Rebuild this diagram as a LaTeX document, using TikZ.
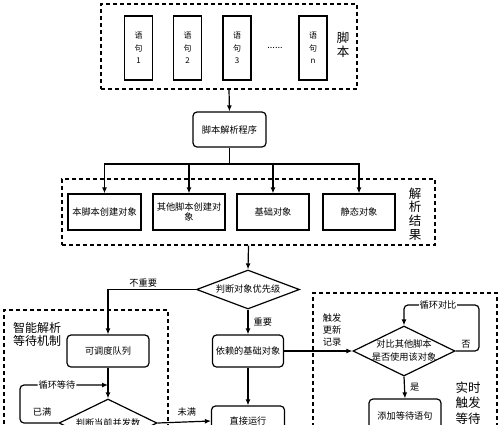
\documentclass[tikz,border=0pt]{standalone}
\usepackage{fontspec}
\newfontfamily\cjk{Noto Sans CJK SC}
\usetikzlibrary{shapes.geometric,arrows.meta}
\begin{document}
\begin{tikzpicture}[x=1pt,y=-1pt,
 every node/.style={font=\cjk\fontsize{9.2}{12.5}\selectfont},
 box/.style={draw,line width=1.2pt,inner sep=1pt,align=center},
 rbox/.style={box,rounded corners=4pt},
 stmt/.style={box,minimum width=28pt,minimum height=64pt,font=\cjk\fontsize{8}{12.5}\selectfont},
 grp/.style={draw,line width=1.4pt,dash pattern=on 4pt off 3pt,inner sep=0pt},
 dec/.style={draw,diamond,line width=1.2pt,inner sep=0pt,aspect=2},
 arr/.style={line width=1.2pt,-{Latex[length=6pt,width=5pt]}},
 lbl/.style={align=center},
 tag/.style={inner sep=1pt,align=center}
]
\useasboundingbox (0,0) rectangle (500,424);
\clip (0,0) rectangle (500,424);

% script group
\node[grp,minimum width=256pt,minimum height=85pt] (script) at (229,46.5) {};
\node[stmt] (s1) at (138.5,48) {语\\句\\1};
\node[stmt] (s2) at (187.5,48) {语\\句\\2};
\node[stmt] (s3) at (237,48) {语\\句\\3};
\node[stmt] (sn) at (313,48) {语\\句\\n};
\node[tag] (dots) at (275,48) {......};
\node[lbl,font=\cjk\fontsize{12.5}{14}\selectfont] (scriptlbl) at (343,45) {脚\\本};

% parser
\node[rbox,minimum width=73pt,minimum height=35pt] (parser) at (229.5,129.5) {脚本解析程序};

% results group
\node[grp,minimum width=373pt,minimum height=66pt] (results) at (248.5,212) {};
\node[box,minimum width=73pt,minimum height=36pt] (r1) at (104.5,212) {本脚本创建对象};
\node[box,minimum width=72pt,minimum height=36pt,font=\cjk\fontsize{9.2}{10}\selectfont] (r2) at (189,212) {其他脚本创建对\\象};
\node[box,minimum width=72pt,minimum height=36pt] (r3) at (273,212) {基础对象};
\node[box,minimum width=72pt,minimum height=36pt] (r4) at (359,212) {静态对象};
\node[lbl,font=\cjk\fontsize{12.5}{13.7}\selectfont] (reslbl) at (415,214) {解\\析\\结\\果};

\draw[arr] (script.south) -- (parser.north);
\coordinate (br) at (229.5,164);
\draw[line width=1.2pt] (parser.south) -- (br);
\draw[arr] (br) -| (r1.north);
\draw[arr] (br) -| (r2.north);
\draw[arr] (br) -| (r3.north);
\draw[arr] (br) -| (r4.north);

% priority decision
\node[dec,minimum width=103pt,minimum height=39pt] (dec1) at (248,289.5) {};
\node[tag] (dec1t) at (dec1) {判断对象优先级};
\draw[arr] (results.south) -- (dec1.north);

% left group
\node[grp,minimum width=164pt,minimum height=150pt] (leftgrp) at (86,385) {};
\node[lbl,font=\cjk\fontsize{12}{13}\selectfont] (leftlbl) at (37,334) {智能解析\\等待机制};
\node[rbox,minimum width=82pt,minimum height=32pt] (queue) at (108,351) {可调度队列};
\draw[arr] (dec1.west) -| node[tag,pos=0.3,above=1pt] {不重要} (queue.north);
\node[dec,minimum width=98pt,minimum height=48pt] (dec3) at (108,423) {};
\node[tag] (dec3t) at (dec3) {判断当前并发数};
\draw[arr] (queue.south) -- (dec3.north);
\coordinate (lw) at (20,385);
\coordinate (jn) at (108,385);
\draw[arr,rounded corners=4pt] (dec3.west) -| (lw) -- node[tag,fill=white,pos=0.42] {循环等待} (jn);
\node[tag] (full) at (42,412) {已满};

% middle
\node[rbox,minimum width=71pt,minimum height=32pt] (dep) at (248,351) {依赖的基础对象};
\draw[arr] (dec1.south) -- node[tag,right=4pt] {重要} (dep.north);
\node[rbox,minimum width=73pt,minimum height=30pt] (run) at (248,421) {直接运行};
\draw[arr] (dep.south) -- (run.north);
\draw[arr] (dec3.east) -- node[tag,above=4pt,pos=0.55] {未满} (run.west);

% right group
\node[grp,minimum width=184pt,minimum height=160pt] (rightgrp) at (405,373) {};
\node[dec,minimum width=102pt,minimum height=50pt] (dec2) at (404,351) {};
\node[tag,font=\cjk\fontsize{9.2}{13}\selectfont] (dec2t) at (dec2) {对比其他脚本\\是否使用该对象};
\draw[arr] (dep.east) -- (dec2.west);
\node[tag,font=\cjk\fontsize{9.2}{11.7}\selectfont] (trig) at (332,330) {触发\\更新\\记录};
\coordinate (lp) at (479,305);
\draw[arr,rounded corners=4pt] (dec2.east) -| (lp) -| (dec2.north);
\node[tag,fill=white] (cmp) at (438,305) {循环对比};
\node[tag] (no) at (466,344) {否};
\node[rbox,minimum width=72pt,minimum height=33pt] (add) at (405,415.5) {添加等待语句};
\draw[arr] (dec2.south) -- node[tag,right=4pt] {是} (add.north);
\node[lbl,font=\cjk\fontsize{12.5}{15.5}\selectfont] (rightlbl) at (468,403) {实时\\触发\\等待};
\end{tikzpicture}
\end{document}
